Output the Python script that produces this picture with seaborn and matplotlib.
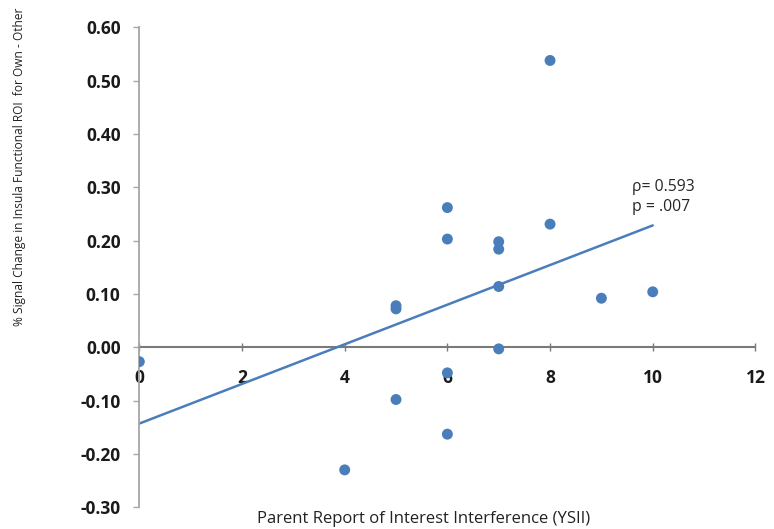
import matplotlib
matplotlib.use("Agg")
import matplotlib.pyplot as plt
import seaborn as sns
import numpy as np
import pandas as pd

# ---- data ----
ysii = [0, 4, 5, 5, 5, 6, 6, 6, 6, 7, 7, 7, 7, 8, 8, 9, 10]
signal_change = [-0.027, -0.230, 0.078, 0.072, -0.098, 0.262, 0.203, -0.048,
                 -0.163, 0.198, 0.184, 0.114, -0.003, 0.538, 0.231, 0.092, 0.104]
x_ticks = [0, 2, 4, 6, 8, 10, 12]
y_ticks = [0.60, 0.50, 0.40, 0.30, 0.20, 0.10, 0.00, -0.10, -0.20, -0.30]
y_tick_labels = ["0.60", "0.50", "0.40", "0.30", "0.20", "0.10", "0.00",
                 "-0.10", "-0.20", "-0.30"]
stats_text = ["\u03c1= 0.593", "p = .007"]
x_label = "Parent Report of Interest Interference (YSII)"
y_label = "% Signal Change in Insula Functional ROI  for Own - Other"

df = pd.DataFrame({"ysii": ysii, "signal": signal_change})

sns.set_theme(style="white")
plt.rcParams["font.family"] = ["Open Sans", "DejaVu Sans"]

blue = "#4A7EBB"
fig = plt.figure(figsize=(7.74, 5.29), dpi=100)
ax = fig.add_axes([0.180, 0.0412, 0.796, 0.907])

sns.regplot(data=df, x="ysii", y="signal", ax=ax, ci=None, truncate=True,
            scatter_kws=dict(s=62, color=blue, edgecolor="none", alpha=1, zorder=3),
            line_kws=dict(color=blue, lw=1.8, zorder=2))

ax.set_xlim(0, 12)
ax.set_ylim(-0.30, 0.60)

# spines
ax.spines["top"].set_visible(False)
ax.spines["right"].set_visible(False)
ax.spines["left"].set_color("#a6a6a6")
ax.spines["left"].set_linewidth(1.3)
ax.spines["bottom"].set_position(("data", 0))
ax.spines["bottom"].set_color("#7a7a7a")
ax.spines["bottom"].set_linewidth(1.5)
ax.spines["bottom"].set_zorder(1)

ax.set_yticks(y_ticks)
ax.set_yticklabels(y_tick_labels)
ax.set_xticks(x_ticks)
ax.set_xticklabels([str(t) for t in x_ticks])

ax.tick_params(axis="y", direction="out", length=4, width=1, color="#a6a6a6",
               pad=9.5, labelsize=12.5, labelcolor="#1a1a1a", left=True)
ax.tick_params(axis="x", direction="inout", length=6, width=1, color="#7a7a7a",
               pad=12.5, labelsize=12.5, labelcolor="#1a1a1a", bottom=True)
for lbl in ax.get_xticklabels() + ax.get_yticklabels():
    lbl.set_fontweight("bold")

ax.set_xlabel(x_label, fontsize=12, color="#222222")
ax.xaxis.set_label_coords(0.462, -0.024)
ax.xaxis.label.set_va("center")
ax.set_ylabel(y_label, fontsize=8.6, color="#222222")
ax.yaxis.set_label_coords(-0.195, 0.709)
ax.yaxis.label.set_va("center")

ax.text(9.6, 0.300, stats_text[0], fontsize=11.3, color="#262626", va="center", ha="left")
ax.text(9.6, 0.264, stats_text[1], fontsize=11.3, color="#262626", va="center", ha="left")

ax.grid(False)
fig.savefig("out.png", dpi=100)
